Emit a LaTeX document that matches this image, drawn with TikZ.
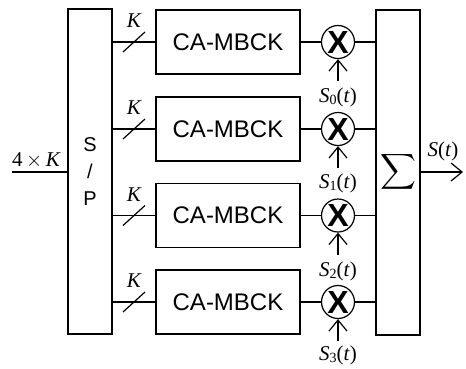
\documentclass[tikz,border=0pt]{standalone}
\usepackage{amsmath}
\usepackage{fontspec}
\setmainfont{Liberation Sans}
\newfontfamily\tms{Liberation Serif}
\usetikzlibrary{arrows.meta}
\newcommand{\Sl}[1]{{\tms\itshape S}\raisebox{-0.3ex}{\tms\fontsize{14}{14}\selectfont #1}{\tms(\itshape t\/\upshape)}}
\begin{document}
\begin{tikzpicture}[x=1pt,y=-1pt, line width=1.2pt,
  blk/.style={draw, minimum width=144pt, minimum height=64pt, inner sep=0pt, font=\fontsize{24}{26}\selectfont},
  tall/.style={draw, minimum width=44pt, minimum height=325pt, inner sep=0pt},
  mult/.style={draw, circle, minimum size=33pt, inner sep=0pt, font=\fontsize{32}{32}\selectfont\bfseries},
  lab/.style={inner sep=0pt, font=\fontsize{21}{23}\selectfont\tms},
  tip/.style={-{Straight Barb[length=11pt,width=18pt]}}
]
\useasboundingbox (0,0) rectangle (466,368);
\node[tall, align=center, font=\fontsize{20}{27}\selectfont] (sp) at (90,171.5) {S\\/\\P};
\node[tall] (sum) at (398,172.5) {};
\node[inner sep=0pt, font=\fontsize{28}{30}\selectfont] (sig) at (398,172) {$\displaystyle\sum$};

\foreach \i/\y in {1/42,2/129,3/215.5,4/302}{
  \node[blk] (b\i) at (228,\y) {CA-MBCK};
  \node[mult] (m\i) at (338,\y) {X};
  \coordinate (s\i) at (134,\y);
  \draw (sp.east |- b\i) -- (b\i.west);
  \draw ([shift={(-11,10)}]s\i) -- ([shift={(11,-10)}]s\i);
  \node[lab] (k\i) at (134,\y-21) {\itshape K};
  \draw (b\i.east) -- (m\i.west);
  \draw (m\i.east) -- (sum.west |- m\i);
  \coordinate (a\i) at (338,\y+39);
  \draw[tip] (a\i) -- (m\i.south);
}
\node[lab] (l0) at (338,97) {\Sl{0}};
\node[lab] (l1) at (338,183) {\Sl{1}};
\node[lab] (l2) at (338,271) {\Sl{2}};
\node[lab] (l3) at (338,355) {\Sl{3}};

\coordinate (in) at (12,172);
\draw (in) -- (sp.west |- in);
\node[lab] (lin) at (36,160) {4\,$\times$\,\itshape K};

\coordinate (out) at (463,172);
\draw[tip] (sum.east |- out) -- (out);
\node[lab] (lout) at (443,151) {\itshape S\/\upshape(\itshape t\/\upshape)};
\end{tikzpicture}
\end{document}
